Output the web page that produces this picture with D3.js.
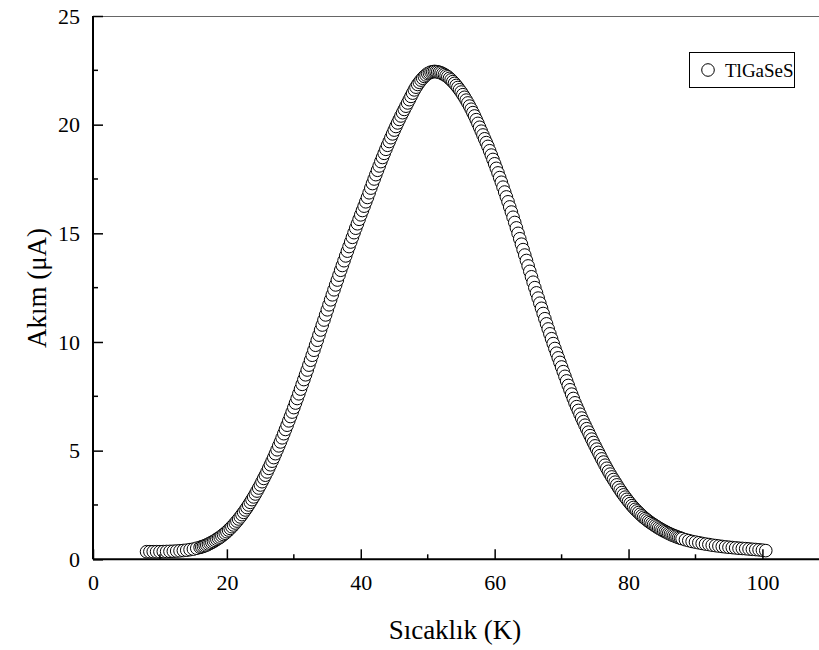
<!DOCTYPE html>
<html><head><meta charset="utf-8">
<script src="https://cdn.jsdelivr.net/npm/d3@7"></script>
<style>body{margin:0;background:#fff}svg{display:block}</style>
</head><body>
<script>
const temps = [
8,8.5,9,9.5,10,10.5,11,11.5,12,12.5,13,13.5,14,14.5,15,15.5,
16,16.25,16.5,16.75, 17,17.25,17.5,17.75, 18,18.25,18.5,18.75, 19,19.25,19.5,19.75,
20,20.25,20.5,20.75, 21,21.25,21.5,21.75, 22,22.25,22.5,22.75, 23,23.25,23.5,23.75,
24,24.25,24.5,24.75, 25,25.25,25.5,25.75, 26,26.25,26.5,26.75, 27,27.25,27.5,27.75,
28,28.25,28.5,28.75, 29,29.25,29.5,29.75, 30,30.25,30.5,30.75, 31,31.25,31.5,31.75,
32,32.25,32.5,32.75, 33,33.25,33.5,33.75, 34,34.25,34.5,34.75, 35,35.25,35.5,35.75,
36,36.25,36.5,36.75, 37,37.25,37.5,37.75, 38,38.25,38.5,38.75, 39,39.25,39.5,39.75,
40,40.25,40.5,40.75, 41,41.25,41.5,41.75, 42,42.25,42.5,42.75, 43,43.25,43.5,43.75,
44,44.25,44.5,44.75, 45,45.25,45.5,45.75, 46,46.25,46.5,46.75, 47,47.25,47.5,47.75,
48,48.25,48.5,48.75, 49,49.25,49.5,49.75, 50,50.25,50.5,50.75, 51,51.25,51.5,51.75,
52,52.25,52.5,52.75, 53,53.25,53.5,53.75, 54,54.25,54.5,54.75, 55,55.25,55.5,55.75,
56,56.25,56.5,56.75, 57,57.25,57.5,57.75, 58,58.25,58.5,58.75, 59,59.25,59.5,59.75,
60,60.25,60.5,60.75, 61,61.25,61.5,61.75, 62,62.25,62.5,62.75, 63,63.25,63.5,63.75,
64,64.25,64.5,64.75, 65,65.25,65.5,65.75, 66,66.25,66.5,66.75, 67,67.25,67.5,67.75,
68,68.25,68.5,68.75, 69,69.25,69.5,69.75, 70,70.25,70.5,70.75, 71,71.25,71.5,71.75,
72,72.25,72.5,72.75, 73,73.25,73.5,73.75, 74,74.25,74.5,74.75, 75,75.25,75.5,75.75,
76,76.25,76.5,76.75, 77,77.25,77.5,77.75, 78,78.25,78.5,78.75, 79,79.25,79.5,79.75,
80,80.25,80.5,80.75, 81,81.25,81.5,81.75, 82,82.25,82.5,82.75, 83,83.25,83.5,83.75,
84,84.25,84.5,84.75, 85,85.25,85.5,85.75, 86,86.25,86.5,86.75, 87,87.25,87.5,87.75,
88,88.5,89,89.5,90,90.5,91,91.5,92,92.5,93,93.5,94,94.5,95,95.5,96,96.5,97,97.5,98,98.5,99,99.5,100,100.5];
const current = [
0.35,0.35,0.35,0.35,0.35,0.355,0.36,0.365,0.37,0.38,0.39,0.405,0.42,0.445,0.47,0.51,
0.55,0.575,0.60,0.63, 0.66,0.70,0.74,0.78, 0.82,0.87,0.92,0.97, 1.02,1.08,1.14,1.20,
1.27,1.345,1.42,1.50, 1.58,1.67,1.76,1.855, 1.95,2.055,2.16,2.27, 2.38,2.50,2.62,2.745,
2.87,3.005,3.14,3.28, 3.42,3.57,3.72,3.87, 4.02,4.185,4.35,4.515, 4.68,4.86,5.04,5.22,
5.40,5.59,5.78,5.975, 6.17,6.37,6.57,6.775, 6.98,7.19,7.40,7.615, 7.83,8.05,8.27,8.49,
8.71,8.935,9.16,9.39, 9.62,9.85,10.08,10.315, 10.55,10.78,11.01,11.245, 11.48,11.71,11.94,12.17,
12.40,12.625,12.85,13.075, 13.30,13.52,13.74,13.96, 14.18,14.39,14.60,14.815, 15.03,15.235,15.44,15.645,
15.85,16.05,16.25,16.45, 16.65,16.865,17.08,17.29, 17.50,17.70,17.90,18.10, 18.30,18.49,18.68,18.865,
19.05,19.225,19.40,19.575, 19.75,19.915,20.08,20.24, 20.40,20.55,20.70,20.85, 21.00,21.15,21.30,21.45,
21.60,21.725,21.85,21.95, 22.05,22.135,22.22,22.285, 22.35,22.385,22.42,22.435, 22.45,22.44,22.43,22.405,
22.38,22.34,22.30,22.25, 22.20,22.13,22.06,21.98, 21.90,21.805,21.71,21.605, 21.50,21.38,21.26,21.13,
21.00,20.855,20.71,20.555, 20.40,20.23,20.06,19.88, 19.70,19.525,19.35,19.175, 19.00,18.80,18.60,18.40,
18.20,17.99,17.78,17.565, 17.35,17.125,16.90,16.675, 16.45,16.215,15.98,15.74, 15.50,15.25,15.00,14.75,
14.50,14.25,14.00,13.75, 13.50,13.25,13.00,12.75, 12.50,12.26,12.02,11.785, 11.55,11.31,11.07,10.835,
10.60,10.375,10.15,9.925, 9.70,9.485,9.27,9.06, 8.85,8.635,8.42,8.21, 8.00,7.80,7.60,7.40,
7.20,7.025,6.85,6.675, 6.50,6.335,6.17,6.01, 5.85,5.69,5.53,5.375, 5.22,5.07,4.92,4.77,
4.62,4.475,4.33,4.19, 4.05,3.92,3.79,3.67, 3.55,3.425,3.30,3.185, 3.07,2.965,2.86,2.76,
2.66,2.565,2.47,2.385, 2.30,2.225,2.15,2.075, 2.00,1.935,1.87,1.81, 1.75,1.695,1.64,1.59,
1.54,1.49,1.44,1.395, 1.35,1.31,1.27,1.23, 1.19,1.155,1.12,1.09, 1.06,1.03,1.00,0.975,
0.95,0.90,0.86,0.82,0.79,0.76,0.73,0.70,0.68,0.65,0.63,0.61,0.59,0.57,0.555,0.54,0.525,0.51,0.50,0.49,0.475,0.46,0.45,0.435,0.42,0.40];
const xTicks = [0,20,40,60,80,100];
const xMinor = [10,30,50,70,90];
const yTicks = [0,5,10,15,20,25];
const yMinor = [2.5,7.5,12.5,17.5,22.5];
const seriesName = "TlGaSeS";
const xTitle = "Sıcaklık (K)";
const yTitle = "Akım (μA)";

const W = 819, H = 650;
const L = 93, T = 16, B = 559.3;
const x = d3.scaleLinear().domain([0, 108.6]).range([L, 820]);
const y = d3.scaleLinear().domain([0, 25]).range([B, T]);
const svg = d3.select("body").append("svg").attr("width", W).attr("height", H);
const font = "'Liberation Serif','Times New Roman',serif";

svg.append("line").attr("x1", L).attr("x2", W).attr("y1", T + 0.5).attr("y2", T + 0.5)
  .attr("stroke", "#666").attr("stroke-width", 1);

const n = Math.min(temps.length, current.length);
const pts = temps.slice(0, n).map((t, i) => ({t, v: current[i]}));
svg.append("g").selectAll("circle").data(pts).join("circle")
  .attr("cx", d => x(d.t)).attr("cy", d => y(d.v)).attr("r", 6.3)
  .attr("fill", "#fff").attr("stroke", "#000").attr("stroke-width", 1);

const xAxis = d3.axisBottom(x).tickValues(xTicks).tickSize(-10).tickFormat(d3.format("d"));
const gx = svg.append("g").attr("transform", `translate(0,${B})`).call(xAxis);
const yAxis = d3.axisLeft(y).tickValues(yTicks).tickSize(-10).tickPadding(13).tickFormat(d3.format("d"));
const gy = svg.append("g").attr("transform", `translate(${L},0)`).call(yAxis);
[gx, gy].forEach(g => {
  g.attr("font-family", null).attr("font-size", null);
  g.select(".domain").attr("stroke", "#000").attr("stroke-width", 2);
  g.selectAll(".tick line").attr("stroke", "#000").attr("stroke-width", 1.5);
  g.selectAll("text").style("font-family", font).style("font-size", "22px").attr("fill", "#000");
});
gx.select(".domain").attr("d", `M${L},0H${W}`);
gy.select(".domain").attr("d", `M0,${B}V${T}`);
gx.selectAll("text").attr("y", 31).attr("dy", 0);
svg.append("g").selectAll("line").data(xMinor).join("line")
  .attr("x1", d => x(d)).attr("x2", d => x(d)).attr("y1", B).attr("y2", B - 5)
  .attr("stroke", "#000").attr("stroke-width", 1.5);
svg.append("g").selectAll("line").data(yMinor).join("line")
  .attr("y1", d => y(d)).attr("y2", d => y(d)).attr("x1", L).attr("x2", L + 5)
  .attr("stroke", "#000").attr("stroke-width", 1.5);

svg.append("text").attr("x", 455).attr("y", 639).attr("text-anchor", "middle")
  .style("font-family", font).style("font-size", "27px").text(xTitle);
svg.append("text").attr("transform", "translate(46,288) rotate(-90)").attr("text-anchor", "middle")
  .style("font-family", font).style("font-size", "27px").text(yTitle);

const lg = svg.append("g");
lg.append("rect").attr("x", 689.5).attr("y", 52.5).attr("width", 105).attr("height", 35)
  .attr("fill", "#fff").attr("stroke", "#000").attr("stroke-width", 1);
lg.append("circle").attr("cx", 708).attr("cy", 70).attr("r", 6.3)
  .attr("fill", "#fff").attr("stroke", "#000");
lg.append("text").attr("x", 725).attr("y", 77).style("font-family", font).style("font-size", "19px").text(seriesName);
</script>
</body></html>
